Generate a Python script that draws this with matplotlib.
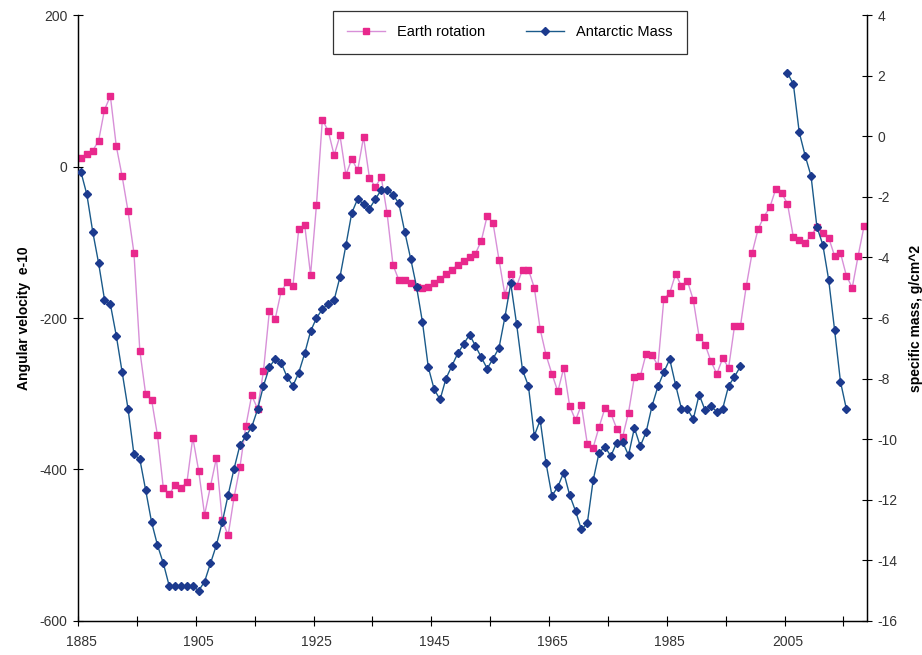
import numpy as np
import matplotlib
matplotlib.use("Agg")
import matplotlib.pyplot as plt

# -----------------------------
# Data
# -----------------------------

years = list(range(1885, 2019))

earth_rotation = [
    11, 16, 21, 34, 75, 93, 27, -13, -59, -114,                       # 1885-1894
    -243, -301, -308, -355, -425, -433, -420, -424, -417, -358,       # 1895-1904
    -402, -460, -422, -385, -467, -487, -437, -397, -343, -302,       # 1905-1914
    -320, -270, -191, -201, -165, -153, -158, -82, -77, -143,         # 1915-1924
    -51, 62, 47, 15, 41, -11, 10, -5, 39, -15,                        # 1925-1934
    -27, -14, -62, -130, -150, -150, -154, -159, -160, -159,          # 1935-1944
    -154, -148, -142, -136, -130, -125, -120, -115, -98, -65,         # 1945-1954
    -75, -123, -169, -142, -158, -136, -136, -160, -215, -249,        # 1955-1964
    -274, -297, -266, -316, -335, -315, -366, -371, -344, -319,       # 1965-1974
    -326, -346, -357, -325, -278, -277, -247, -249, -263, -175,       # 1975-1984
    -167, -142, -158, -151, -176, -225, -235, -257, -274, -253,       # 1985-1994
    -266, -211, -211, -158, -114, -83, -66, -54, -30, -35,            # 1995-2004
    -49, -93, -97, -101, -91, -80, -88, -94, -118, -114,              # 2005-2014
    -144, -160, -118, -79,                                            # 2015-2018
]

nan = np.nan
antarctic_mass = [
    -1.18, -1.92, -3.15, -4.19, -5.39, -5.55, -6.58, -7.79, -9.0, -10.5,            # 1885-1894
    -10.66, -11.69, -12.74, -13.5, -14.1, -14.85, -14.85, -14.85, -14.85, -14.85,   # 1895-1904
    -15.0, -14.7, -14.1, -13.5, -12.74, -11.84, -10.98, -10.2, -9.9, -9.6,          # 1905-1914
    -9.02, -8.24, -7.63, -7.34, -7.48, -7.94, -8.24, -7.8, -7.17, -6.44,            # 1915-1924
    -6.0, -5.71, -5.53, -5.41, -4.64, -3.6, -2.53, -2.07, -2.24, -2.39,             # 1925-1934
    -2.08, -1.77, -1.77, -1.93, -2.22, -3.16, -4.04, -4.97, -6.13, -7.63,           # 1935-1944
    -8.36, -8.69, -8.0, -7.58, -7.17, -6.86, -6.55, -6.92, -7.3, -7.67,             # 1945-1954
    -7.34, -6.99, -5.98, -4.86, -6.21, -7.72, -8.24, -9.89, -9.37, -10.8,           # 1955-1964
    -11.87, -11.57, -11.1, -11.84, -12.37, -12.98, -12.78, -11.35, -10.45, -10.25,  # 1965-1974
    -10.56, -10.11, -10.09, -10.53, -9.63, -10.23, -9.76, -8.9, -8.26, -7.79,       # 1975-1984
    -7.36, -8.21, -9.0, -9.0, -9.34, -8.53, -9.04, -8.9, -9.1, -8.99,               # 1985-1994
    -8.24, -7.94, -7.6, nan, nan, nan, nan, nan, nan, nan,                          # 1995-2004
    2.09, 1.72, 0.13, -0.64, -1.31, -2.99, -3.58, -4.74, -6.39, -8.1,               # 2005-2014
    -9.0, nan, nan, nan,                                                            # 2015-2018
]

label_years = [1885, 1905, 1925, 1945, 1965, 1985, 2005]
left_ticks = [-600, -400, -200, 0, 200]
right_ticks = list(range(-16, 5, 2))

# -----------------------------
# Figure
# -----------------------------

plt.rcParams["font.family"] = ["Liberation Sans", "DejaVu Sans"]
plt.rcParams["axes.unicode_minus"] = False

fig = plt.figure(figsize=(9.22, 6.55), dpi=100)
ax = fig.add_axes([0.0846, 0.052, 0.8557, 0.925])
ax2 = ax.twinx()

pink_line = "#d890d8"
pink_mark = "#e8288c"
blue_line = "#1a5a8a"
blue_mark = "#1c3a8e"

l1, = ax.plot(years, earth_rotation, color=pink_line, lw=1.0,
              marker="s", ms=4.8, mfc=pink_mark, mec=pink_mark,
              label="Earth rotation", zorder=2)
l2, = ax2.plot(years, antarctic_mass, color=blue_line, lw=1.0,
               marker="D", ms=4.3, mfc=blue_mark, mec=blue_mark,
               label="Antarctic Mass", zorder=3)

# x axis: ticks between categories, labels on every 20th year
ax.set_xlim(years[0] - 0.5, years[-1] + 0.5)
ax.set_xticks(np.arange(years[0] - 0.5, years[-1] + 1, 10))
ax.set_xticklabels([])
ax.set_xticks(label_years, minor=True)
ax.set_xticklabels([str(y) for y in label_years], minor=True)
ax.tick_params(axis="x", which="major", direction="inout", length=7, width=0.8)
ax.tick_params(axis="x", which="minor", length=0, pad=10,
               labelsize=10, labelcolor="#333333")

ax.set_ylim(-600, 200)
ax.set_yticks(left_ticks)
ax.tick_params(axis="y", direction="inout", length=7, width=0.8,
               labelsize=10, labelcolor="#333333", pad=4)

ax2.set_ylim(-16, 4)
ax2.set_yticks(right_ticks)
ax2.tick_params(axis="y", direction="inout", length=7, width=0.8,
                labelsize=10, labelcolor="#333333", pad=4)

for a in (ax, ax2):
    a.spines["top"].set_visible(False)
    for s in ("left", "right", "bottom"):
        a.spines[s].set_linewidth(0.9)

ax.set_ylabel("Angular velocity  e-10", fontsize=10, fontweight="bold", labelpad=6)
ax2.set_ylabel("specific mass, g/cm^2", fontsize=10, fontweight="bold", labelpad=8)

leg = fig.legend(handles=[l1, l2], loc="center", ncol=2,
                 bbox_to_anchor=(0.361, 0.919, 0.384, 0.064), mode="expand",
                 borderaxespad=0, frameon=True, fancybox=False, fontsize=10.5,
                 handlelength=2.6, columnspacing=2.5, borderpad=1.0)
leg.get_frame().set_edgecolor("black")
leg.get_frame().set_linewidth(0.9)

fig.savefig("out.png", dpi=100)
